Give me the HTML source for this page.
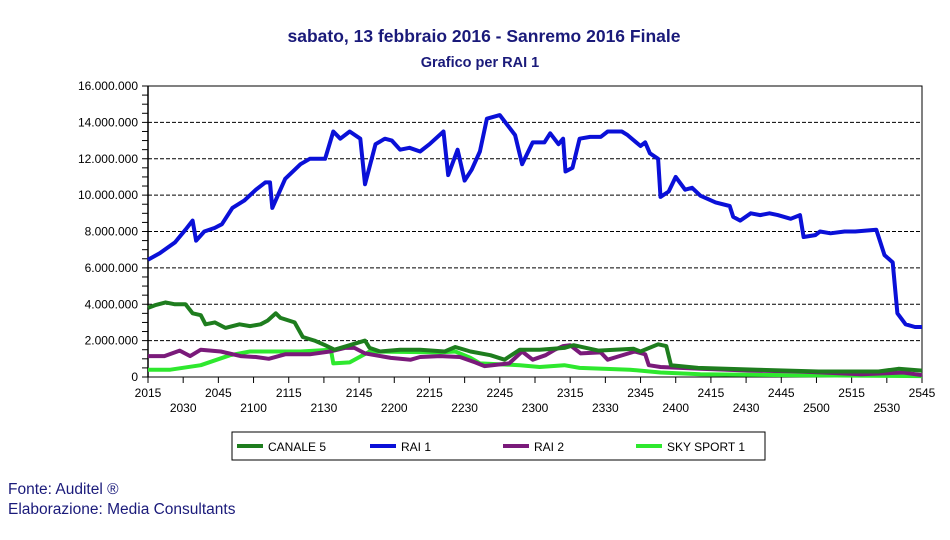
<!DOCTYPE html>
<html><head><meta charset="utf-8"><style>
body{margin:0;background:#fff;width:950px;height:535px;overflow:hidden;font-family:"Liberation Sans",Arial,sans-serif}
</style></head><body>
<svg id="chart" width="950" height="535" xmlns="http://www.w3.org/2000/svg" font-family="Liberation Sans, Arial, sans-serif">
<text x="484" y="42" text-anchor="middle" font-size="17.5" font-weight="bold" fill="#1a1a7a">sabato, 13 febbraio 2016 - Sanremo 2016 Finale</text>
<text x="480" y="67" text-anchor="middle" font-size="14.5" font-weight="bold" fill="#1a1a7a">Grafico per RAI 1</text>
<g id="grid"></g><g id="axes"></g><g id="series"></g>
<g>
<rect x="232" y="432" width="533" height="28" fill="#fff" stroke="#000" stroke-width="1"/>
<g><line x1="237" y1="446" x2="263" y2="446" stroke="#1e7d1e" stroke-width="4"/><text x="268" y="451" font-size="12">CANALE 5</text></g>
<g><line x1="370" y1="446" x2="396" y2="446" stroke="#0a10d8" stroke-width="4"/><text x="401" y="451" font-size="12">RAI 1</text></g>
<g><line x1="503" y1="446" x2="529" y2="446" stroke="#7a1a7a" stroke-width="4"/><text x="534" y="451" font-size="12">RAI 2</text></g>
<g><line x1="636" y1="446" x2="662" y2="446" stroke="#2ee82e" stroke-width="4"/><text x="667" y="451" font-size="12">SKY SPORT 1</text></g>
</g>
<text x="8" y="494" font-size="15.5" fill="#1a1a7a">Fonte: Auditel ®</text>
<text x="8" y="514" font-size="15.5" fill="#1a1a7a">Elaborazione: Media Consultants</text>
</svg>
<script>
const NS="http://www.w3.org/2000/svg";
const xTickLabels=["2015","2030","2045","2100","2115","2130","2145","2200","2215","2230","2245","2300","2315","2330","2345","2400","2415","2430","2445","2500","2515","2530","2545"];
const yTickLabels=["0","2.000.000","4.000.000","6.000.000","8.000.000","10.000.000","12.000.000","14.000.000","16.000.000"];
const rai1T=[0,5,11.5,16,19,20.5,24,28.5,31.5,36,41,46,50,52,53,58.5,65,69,75.5,79,82,86,90.5,92.5,97,101,104,107.5,111.5,116,120,126,128,132,135,138,141.5,144.5,150,156.5,159.5,164,169,171.5,175,177,178,181,184,188.5,193,196,202,204.5,210,212,214,217.5,218.5,222,225,229,232,235.5,242,248,249.5,252.5,257,261,265,268.5,274,278,279.5,284.5,286.5,291,297,301.5,310.5,314,317.5,319.5,323,327,330];
const rai1V=[6.45,6.8,7.4,8.1,8.6,7.5,8.0,8.2,8.4,9.3,9.7,10.3,10.7,10.7,9.3,10.9,11.7,12.0,12.0,13.5,13.1,13.5,13.1,10.6,12.8,13.1,13.0,12.5,12.6,12.4,12.8,13.5,11.1,12.5,10.8,11.4,12.4,14.2,14.4,13.3,11.7,12.9,12.9,13.4,12.8,13.1,11.3,11.5,13.1,13.2,13.2,13.5,13.5,13.3,12.7,12.9,12.3,12.0,9.9,10.2,11.0,10.3,10.4,9.97,9.6,9.4,8.8,8.6,9.0,8.9,9.0,8.9,8.7,8.9,7.7,7.8,8.0,7.9,8.0,8.0,8.1,6.7,6.3,3.5,2.9,2.75,2.75];
const c5T=[0,3,7.5,11.5,16,19,22.5,24.5,28.5,33,39,43.5,48,51,54.5,56.5,62.5,66,71,75.5,79.5,86,92.5,94.5,99,107.5,116,126.5,131,137.5,146,152,158.5,167,177.5,181.5,192,207,210,217.5,221,223,234.5,260,286,311.5,320,330];
const c5V=[3.8,3.95,4.1,4.0,4.0,3.5,3.4,2.9,3.0,2.7,2.9,2.8,2.9,3.1,3.5,3.25,3.0,2.2,2.0,1.75,1.5,1.75,2.0,1.6,1.4,1.5,1.5,1.4,1.65,1.4,1.2,0.95,1.5,1.5,1.6,1.75,1.45,1.55,1.4,1.8,1.7,0.65,0.5,0.4,0.3,0.3,0.45,0.35];
const r2T=[0,7,13.5,18,22.5,31,39.5,46,51.5,58.5,69,77.5,84,88,92.5,103.5,112,116,124.5,133,139.5,143.5,154,159.5,164,169.5,173.5,177,180,184.5,193,196,201,207.5,212,213.5,218.5,235.5,257,278,304,322,330];
const r2V=[1.15,1.15,1.45,1.15,1.5,1.4,1.15,1.1,1.0,1.25,1.25,1.4,1.6,1.6,1.3,1.05,0.95,1.1,1.15,1.1,0.8,0.6,0.75,1.4,0.95,1.2,1.5,1.7,1.75,1.3,1.35,0.95,1.15,1.4,1.25,0.65,0.55,0.45,0.35,0.3,0.15,0.25,0.1];
const skyT=[0,9.5,22.5,35,43.5,65,78,79,86,94.5,124.5,131,137.5,141.5,158.5,167,177.5,184,205.5,218.5,235.5,278,330];
const skyV=[0.4,0.4,0.65,1.2,1.4,1.4,1.5,0.75,0.8,1.4,1.35,1.4,1.05,0.75,0.65,0.55,0.65,0.5,0.4,0.25,0.15,0.1,0.05];
const X0=148,X1=922,Y0=377,Y1=86;
const xs=m=>X0+(X1-X0)*m/330;
const ys=v=>Y0-(Y0-Y1)*v/16;
function el(tag,attrs,parent){const e=document.createElementNS(NS,tag);for(const k in attrs)e.setAttribute(k,attrs[k]);parent.appendChild(e);return e;}
const grid=document.getElementById('grid'),axes=document.getElementById('axes'),series=document.getElementById('series');
el('rect',{x:X0,y:Y1,width:X1-X0,height:Y0-Y1,fill:'#fff',stroke:'#000','stroke-width':1},grid);
yTickLabels.forEach((t,i)=>{const y=ys(i*2);
 if(i>0&&i<8){const g=el('line',{x1:X0,x2:X1,y1:y,y2:y,stroke:'#000','stroke-dasharray':'4,2','stroke-width':1},grid);
 
 }
 const tx=el('text',{x:X0-10,y:y+4,'text-anchor':'end','font-size':12},axes);tx.textContent=t;
 
 
});
for(let v=0;v<=16;v+=0.5){el('line',{x1:X0-6,x2:X0,y1:ys(v),y2:ys(v),stroke:'#000'},axes);}
el('line',{x1:X0,x2:X0,y1:Y1,y2:Y0,stroke:'#000','stroke-width':1.5},axes);
xTickLabels.forEach((t,i)=>{const x=xs(i*15);
 el('line',{x1:x,x2:x,y1:Y0,y2:Y0+6,stroke:'#000'},axes);
 const tx=el('text',{x:x,y:i%2?412:397,'text-anchor':'middle','font-size':12},axes);tx.textContent=t;
 
 
});
function line(T,V,color,name){const d=T.map((t,i)=>(i?'L':'M')+xs(t).toFixed(1)+','+ys(V[i]).toFixed(1)).join('');
 const p=el('path',{d:d,fill:'none',stroke:color,'stroke-width':4,'stroke-linejoin':'round'},series);
 
 }
line(skyT,skyV,'#2ee82e','series-sky-sport-1');
line(r2T,r2V,'#7a1a7a','series-rai-2');
line(c5T,c5V,'#1e7d1e','series-canale-5');
line(rai1T,rai1V,'#0a10d8','series-rai-1');
</script>
</body></html>
